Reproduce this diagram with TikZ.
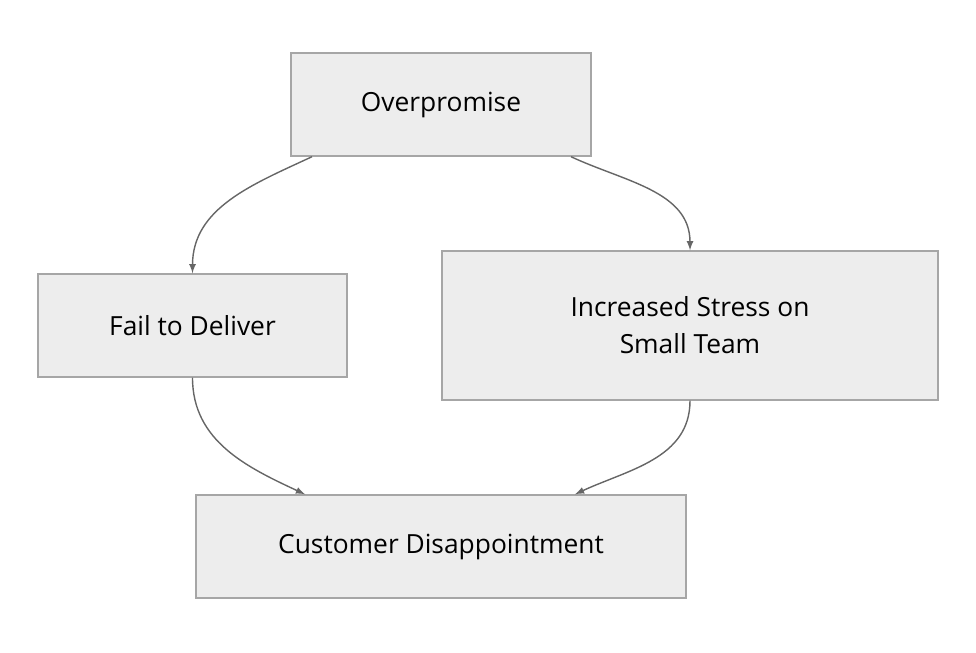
\documentclass[tikz,border=0pt]{standalone}
\usepackage{fontspec}
\setmainfont{Open Sans}
\usetikzlibrary{positioning}
\tikzset{
  box/.style={draw=black!35, fill=black!7, line width=0.8pt, font=\fontsize{15}{21}\selectfont, align=center, inner sep=0pt},
  link/.style={draw=black!60, line width=0.8pt, -latex}
}
\begin{document}
\begin{tikzpicture}[x=0.02cm,y=-0.02cm]
	\useasboundingbox (0,0) rectangle (976,652);
	% boxes
	\node[box, minimum width=300*0.02cm, minimum height=103*0.02cm] (over) at (441,104.5) {Overpromise};
	\node[box, minimum width=309*0.02cm, minimum height=103*0.02cm] (fail) at (192.5,325.5) {Fail to Deliver};
	\node[box, minimum width=496*0.02cm, minimum height=149*0.02cm] (stress) at (690,325.5) {Increased Stress on\\Small Team};
	\node[box, minimum width=490*0.02cm, minimum height=103*0.02cm] (cust) at (441,546.5) {Customer Disappointment};
	% links
	\draw[link] ([xshift=-129*0.02cm]over.south) to[out=-155, in=90] (fail.north);
	\draw[link] ([xshift=130*0.02cm]over.south) to[out=-25, in=90] (stress.north);
	\draw[link] (fail.south) to[out=-90, in=155] ([xshift=-136*0.02cm]cust.north);
	\draw[link] (stress.south) to[out=-90, in=25] ([xshift=134*0.02cm]cust.north);
\end{tikzpicture}
\end{document}
